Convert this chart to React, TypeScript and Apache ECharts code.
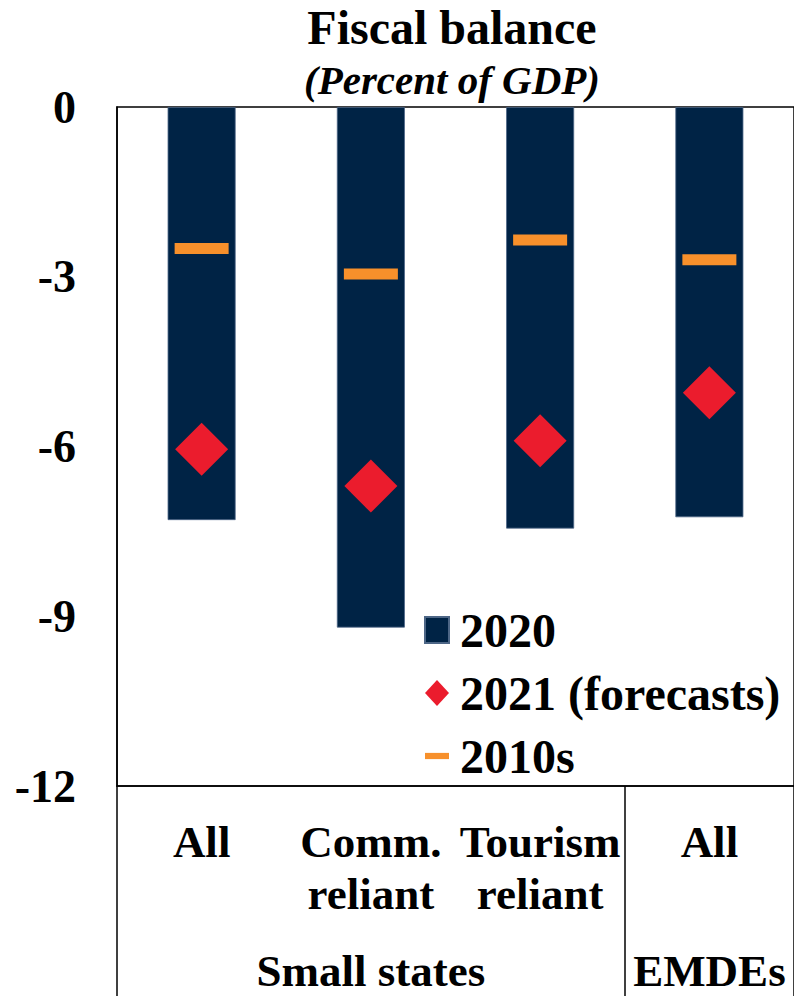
import React, { useEffect, useRef } from "react";
import * as echarts from "echarts";

const categories = ["All", "Comm.\nreliant", "Tourism\nreliant", "All"];
const groupLabels = ["", "Small states", "", "EMDEs"];
const yTicks = [0, -3, -6, -9, -12];
const values2020 = [-7.3, -9.2, -7.45, -7.25];
const values2021 = [-6.05, -6.7, -5.9, -5.05];
const values2010s = [-2.5, -2.95, -2.35, -2.7];

const FONT = "'Liberation Serif', 'Times New Roman', serif";

export default function App() {
  const ref = useRef<HTMLDivElement>(null);
  useEffect(() => {
    const chart = echarts.init(ref.current!, null, { renderer: "svg" });
    chart.setOption({
      animation: false,
      backgroundColor: "#ffffff",
      title: [
        {
          text: "Fiscal balance",
          left: 452,
          textAlign: "center",
          top: 3,
          padding: 0,
          textStyle: { fontFamily: FONT, fontWeight: "bold", fontSize: 48, color: "#000" },
        },
        {
          text: "(Percent of GDP)",
          left: 452,
          textAlign: "center",
          top: 59,
          padding: 0,
          textStyle: { fontFamily: FONT, fontWeight: "bold", fontStyle: "italic", fontSize: 41, color: "#000" },
        },
      ],
      legend: {
        orient: "vertical",
        left: 424,
        top: 605,
        padding: 0,
        itemWidth: 24,
        itemHeight: 26,
        itemGap: 13,
        textStyle: { fontFamily: FONT, fontWeight: "bold", fontSize: 48, color: "#000", lineHeight: 50, padding: [0, 0, 0, 6] },
        data: [
          { name: "2020", icon: "rect" },
          { name: "2021 (forecasts)", icon: "diamond" },
          { name: "2010s", icon: "path://M0,0 H27 V7 H0 Z" },
        ],
      },
      grid: { left: 117, right: -5, top: 107, height: 685, show: true, borderColor: "#000", borderWidth: 1.5, backgroundColor: "transparent" },
      xAxis: [
        {
          type: "category",
          data: categories,
          position: "bottom",
          axisLine: { show: true, onZero: false, lineStyle: { color: "#000", width: 1.5 } },
          axisTick: { show: true, interval: 2, length: 210, lineStyle: { color: "#000", width: 1.5 } },
          axisLabel: { interval: 0, margin: 30, fontFamily: FONT, fontWeight: "bold", fontSize: 45, color: "#000", lineHeight: 52 },
        },
        {
          type: "category",
          data: groupLabels,
          position: "bottom",
          offset: 0,
          axisLine: { show: false, onZero: false },
          axisTick: { show: false },
          axisLabel: { interval: 0, margin: 159, fontFamily: FONT, fontWeight: "bold", fontSize: 45, color: "#000", lineHeight: 52 },
        },
      ],
      yAxis: {
        type: "value",
        min: -12,
        max: 0,
        interval: 3,
        axisLine: { show: true, onZero: false, lineStyle: { color: "#000", width: 1.5 } },
        axisTick: { show: false },
        splitLine: { show: false },
        axisLabel: {
          margin: 41,
          fontFamily: FONT,
          fontWeight: "bold",
          fontSize: 46,
          color: "#000",
          formatter: (v: number) => (yTicks.includes(v) ? String(v) : ""),
        },
      },
      series: [
        {
          name: "2020",
          type: "bar",
          data: values2020,
          barWidth: 68,
          itemStyle: { color: "#002345", borderColor: "#4d6686", borderWidth: 0.8 },
          z: 1,
        },
        {
          name: "2021 (forecasts)",
          type: "scatter",
          data: values2021,
          symbol: "diamond",
          symbolSize: [53, 53],
          itemStyle: { color: "#EB1C2D", opacity: 1 },
          z: 3,
        },
        {
          name: "2010s",
          type: "scatter",
          data: values2010s,
          symbol: "rect",
          symbolSize: [54, 11],
          itemStyle: { color: "#F7902B", opacity: 1 },
          z: 3,
        },
      ],
    });
    return () => chart.dispose();
  }, []);
  return <div ref={ref} style={{ width: 794, height: 997, position: "absolute", left: 0, top: 0 }} />;
}
